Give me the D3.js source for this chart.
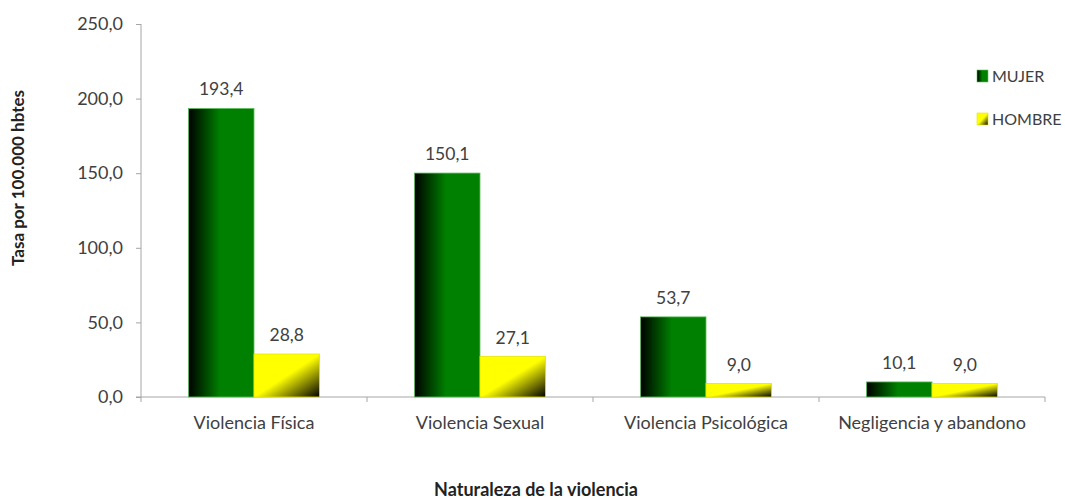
<!DOCTYPE html>
<html><head><meta charset="utf-8">
<script src="https://cdn.jsdelivr.net/npm/d3@7"></script>
<style>body{margin:0;background:#fff}svg{display:block}</style>
</head><body>
<svg id="c" width="1065" height="499"></svg>
<script>
const categories = ["Violencia Física","Violencia Sexual","Violencia Psicológica","Negligencia y abandono"];
const seriesNames = ["MUJER","HOMBRE"];
const mujer = [193.4,150.1,53.7,10.1];
const hombre = [28.8,27.1,9.0,9.0];
const yTicks = [0,50,100,150,200,250];

const svg = d3.select("#c");
const font = "Lato, 'Open Sans', sans-serif";
const txt = "#404040", axisCol = "#a6a6a6";
const loc = d3.formatLocale({decimal:",", thousands:".", grouping:[3], currency:["",""]});
const fmt = loc.format(".1f");

const x = d3.scaleBand().domain(categories).range([141,1045]).paddingInner(0.42).paddingOuter(0.21);
const xs = d3.scaleBand().domain(seriesNames).range([0,x.bandwidth()]);
const y = d3.scaleLinear().domain([0,250]).range([397,24]);

const defs = svg.append("defs");
const gm = defs.append("linearGradient").attr("id","gM").attr("x1",0).attr("y1",0).attr("x2",1).attr("y2",0);
gm.append("stop").attr("offset",0).attr("stop-color","#000");
gm.append("stop").attr("offset",0.48).attr("stop-color","#008000");
gm.append("stop").attr("offset",1).attr("stop-color","#008000");
const gh = defs.append("linearGradient").attr("id","gH").attr("x1",0).attr("y1",0).attr("x2",1).attr("y2",1);
gh.append("stop").attr("offset",0).attr("stop-color","#ffff00");
gh.append("stop").attr("offset",0.5).attr("stop-color","#ffff00");
gh.append("stop").attr("offset",1).attr("stop-color","#000");

// y axis
const ya = svg.append("g").attr("transform","translate(141,0)")
  .call(d3.axisLeft(y).tickValues(yTicks).tickSize(5).tickPadding(13).tickFormat(fmt));
ya.select(".domain").attr("stroke",axisCol).attr("d","M0,24V397");
ya.selectAll(".tick line").attr("stroke",axisCol);
ya.selectAll(".tick text").attr("fill",txt).style("font-family",font).style("font-size","18px");

// x axis
const xa = svg.append("g").attr("transform","translate(0,397)")
  .call(d3.axisBottom(x).tickSize(0).tickPadding(19));
xa.select(".domain").attr("stroke",axisCol).attr("d","M136,0H1045");
xa.selectAll(".tick text").attr("fill",txt).style("font-family",font).style("font-size","18px");
const bounds = [141].concat(categories.map(c=>x(c)+x.bandwidth()/2+x.step()/2));
svg.append("g").selectAll("line").data(bounds).join("line")
  .attr("x1",d=>d).attr("x2",d=>d).attr("y1",397).attr("y2",402).attr("stroke",axisCol);

const series = [{name:"MUJER",vals:mujer,fill:"url(#gM)",stroke:"#5fbf5f"},{name:"HOMBRE",vals:hombre,fill:"url(#gH)",stroke:"#e5e500"}];
series.forEach(s=>{
  const g = svg.append("g");
  g.selectAll("rect").data(categories).join("rect")
    .attr("x",(c)=>x(c)+xs(s.name)).attr("width",xs.bandwidth())
    .attr("y",(c,i)=>y(s.vals[i])).attr("height",(c,i)=>y(0)-y(s.vals[i]))
    .attr("fill",s.fill).attr("stroke",s.stroke).attr("stroke-width",0.8);
  g.selectAll("text").data(categories).join("text")
    .attr("x",(c)=>x(c)+xs(s.name)+xs.bandwidth()/2)
    .attr("y",(c,i)=>y(s.vals[i])-13)
    .attr("text-anchor","middle").attr("fill",txt)
    .style("font-family",font).style("font-size","17.5px")
    .text((c,i)=>fmt(s.vals[i]));
});

// legend
const lg = svg.append("g").attr("transform","translate(977,70)");
series.forEach((s,i)=>{
  const r = lg.append("g").attr("transform",`translate(0,${i*43})`);
  r.append("rect").attr("width",11).attr("height",12).attr("fill",s.fill).attr("stroke",s.stroke).attr("stroke-width",0.6);
  r.append("text").attr("x",15).attr("y",12).attr("fill",txt)
    .style("font-family",font).style("font-size","16px").text(s.name);
});

// axis titles
svg.append("text").attr("transform","translate(24,178) rotate(-90)").attr("text-anchor","middle")
  .attr("fill","#222").style("font-family",font).style("font-weight","bold").style("font-size","17px")
  .text("Tasa por 100.000 hbtes");
svg.append("text").attr("x",536).attr("y",496).attr("text-anchor","middle")
  .attr("fill","#222").style("font-family",font).style("font-weight","bold").style("font-size","18px")
  .text("Naturaleza de la violencia");
</script>
</body></html>
